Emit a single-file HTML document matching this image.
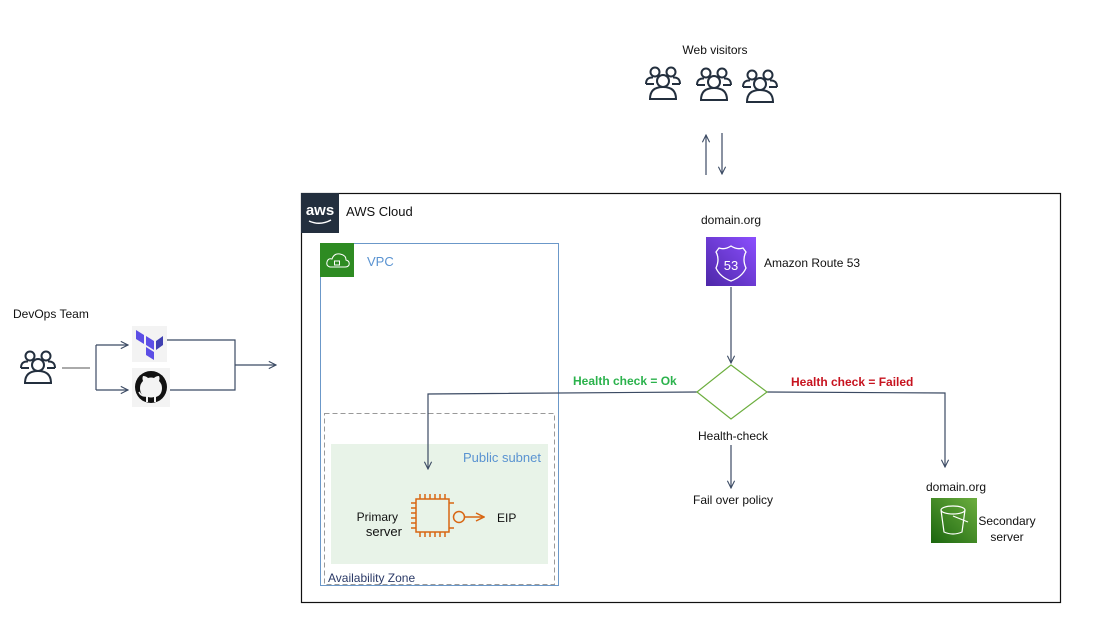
<!DOCTYPE html>
<html><head><meta charset="utf-8"><style>
html,body{margin:0;padding:0;background:#fff}
svg{display:block}
text{font-family:"Liberation Sans",sans-serif;font-size:12px;fill:#111}
</style></head><body>
<svg width="1110" height="627" viewBox="0 0 1110 627" xmlns="http://www.w3.org/2000/svg">
<defs>
<g id="grp" fill="none" stroke="#232f3e" stroke-width="2">
<circle cx="10" cy="6" r="4.5"/><circle cx="26" cy="6" r="4.5"/>
<path d="M1 18 Q1 11 8 11.5 M35 18 Q35 11 28 11.5 M1 18 H9 M35 18 H27"/>
<circle cx="18" cy="15" r="6"/>
<path d="M5 33 Q5 21 18 21 Q31 21 31 33 Z"/>
</g>
<marker id="ar" viewBox="0 0 10 10" refX="9" refY="5" markerWidth="9" markerHeight="9" orient="auto" markerUnits="userSpaceOnUse"><path d="M1 1 L9 5 L1 9" fill="none" stroke="#3b4a63" stroke-width="1.2"/></marker>
<marker id="aro" viewBox="0 0 10 10" refX="9" refY="5" markerWidth="10" markerHeight="10" orient="auto" markerUnits="userSpaceOnUse"><path d="M1 1 L9 5 L1 9" fill="none" stroke="#d86613" stroke-width="1.5"/></marker>
<linearGradient id="pg" x1="0" y1="1" x2="1" y2="0"><stop offset="0" stop-color="#4d27a8"/><stop offset="1" stop-color="#8c4fff"/></linearGradient>
<linearGradient id="gg" x1="0" y1="1" x2="1" y2="0"><stop offset="0" stop-color="#1b660f"/><stop offset="1" stop-color="#6cae3e"/></linearGradient>
</defs>

<text x="715" y="54" text-anchor="middle">Web visitors</text>
<use href="#grp" x="645" y="66"/>
<use href="#grp" x="696" y="67"/>
<use href="#grp" x="742" y="69"/>
<g stroke="#3b4a63" stroke-width="1.2" fill="none">
<line x1="706" y1="175" x2="706" y2="135" marker-end="url(#ar)"/>
<line x1="722" y1="133" x2="722" y2="174" marker-end="url(#ar)"/>
</g>

<rect x="301.5" y="193.5" width="759" height="409" fill="none" stroke="#111" stroke-width="1.2"/>
<rect x="301" y="193" width="38" height="40" fill="#232f3e"/>
<text x="320" y="215" text-anchor="middle" style="font-size:15px;fill:#fff;font-weight:bold">aws</text>
<path d="M309 221 Q320 226 331 220" stroke="#fff" stroke-width="1.5" fill="none"/>
<text x="346" y="216" style="font-size:13px">AWS Cloud</text>

<rect x="320.5" y="243.5" width="238" height="342" fill="none" stroke="#6b98c9" stroke-width="1"/>
<rect x="320" y="243" width="34" height="34" fill="#2e8b22"/>
<path d="M330 267 Q326 266 327 262 Q328 258 332 259 Q334 253 340 254 Q346 255 346 260 Q350 261 349 265 Q348 267 345 267 Z" fill="none" stroke="#fff" stroke-width="1"/>
<rect x="334.5" y="261" width="5" height="4" fill="none" stroke="#fff" stroke-width="1"/>
<text x="367" y="266" style="font-size:13px;fill:#5a93d1">VPC</text>

<rect x="324.5" y="413.5" width="230" height="171" fill="none" stroke="#999" stroke-width="1" stroke-dasharray="5,3"/>
<rect x="331" y="444" width="217" height="120" fill="#e8f3e8"/>
<text x="541" y="462" text-anchor="end" style="font-size:13px;fill:#5a93d1">Public subnet</text>
<text x="328" y="582" style="font-size:12px;fill:#2b3a67">Availability Zone</text>

<g stroke="#d86613" stroke-width="1.5" fill="none">
<rect x="416" y="499" width="33" height="33"/>
<path d="M420 499v-5M425 499v-5M430 499v-5M435 499v-5M440 499v-5M445 499v-5 M420 532v5M425 532v5M430 532v5M435 532v5M440 532v5M445 532v5 M416 503h-5M416 508h-5M416 513h-5M416 518h-5M416 523h-5M416 528h-5 M449 503h5M449 528h5"/>
<circle cx="459" cy="517" r="5.5"/>
<line x1="465" y1="517" x2="484" y2="517" marker-end="url(#aro)"/>
</g>
<text x="398" y="521" text-anchor="end">Primary</text>
<text x="402" y="536" text-anchor="end" style="font-size:13px">server</text>
<text x="497" y="522">EIP</text>

<text x="731" y="224" text-anchor="middle">domain.org</text>
<rect x="706" y="237" width="50" height="49" fill="url(#pg)"/>
<path d="M731 246 Q737 250 743 248 L746 252 Q742 259 746 268 Q742 277 731 281 Q720 277 716 268 Q720 259 716 252 L719 248 Q725 250 731 246 Z" fill="none" stroke="#fff" stroke-width="1.3"/>
<text x="731" y="270" text-anchor="middle" style="font-size:13px;fill:#fff">53</text>
<text x="764" y="267">Amazon Route 53</text>

<g stroke="#3b4a63" stroke-width="1.2" fill="none">
<line x1="731" y1="287" x2="731" y2="363" marker-end="url(#ar)"/>
<polyline points="697,392 428,394 428,469" marker-end="url(#ar)"/>
<polyline points="767,392 945,393 945,467" marker-end="url(#ar)"/>
<line x1="731" y1="445" x2="731" y2="488" marker-end="url(#ar)"/>
</g>
<polygon points="731,365 767,392 731,419 697,392" fill="#fff" stroke="#6cae3e" stroke-width="1.2"/>
<text x="573" y="385" style="font-weight:bold;fill:#2bb24c">Health check = Ok</text>
<text x="791" y="386" style="font-weight:bold;fill:#c7131f">Health check = Failed</text>
<text x="733" y="440" text-anchor="middle">Health-check</text>
<text x="733" y="504" text-anchor="middle">Fail over policy</text>

<text x="956" y="491" text-anchor="middle">domain.org</text>
<rect x="931" y="498" width="46" height="45" fill="url(#gg)"/>
<g stroke="#fff" stroke-width="1.2" fill="none">
<ellipse cx="953" cy="510" rx="12" ry="4"/>
<path d="M941 510 L944 532 Q953 536 962 532 L965 510"/>
<path d="M953 516 L968 522"/>
</g>
<text x="1007" y="525" text-anchor="middle">Secondary</text>
<text x="1007" y="541" text-anchor="middle">server</text>

<text x="13" y="318">DevOps Team</text>
<use href="#grp" x="20" y="350"/>
<g stroke="#3b4a63" stroke-width="1.2" fill="none">
<line x1="62" y1="368" x2="90" y2="368" stroke="#777"/>
<path d="M96 345 V390"/>
<line x1="96" y1="345" x2="128" y2="345" marker-end="url(#ar)"/>
<line x1="96" y1="390" x2="128" y2="390" marker-end="url(#ar)"/>
<polyline points="167,340 235,340 235,390 167,390"/>
<line x1="235" y1="365" x2="276" y2="365" marker-end="url(#ar)"/>
</g>
<rect x="132" y="326" width="35" height="36" fill="#f3f3f3"/>
<g fill="#5c4ee5">
<polygon points="136,330 144,335 144,344 136,339"/>
<polygon points="146,336 154,341 154,350 146,345"/>
<polygon points="146,347 154,352 154,360 146,355"/>
<polygon points="156,341 163,336 163,345 156,350" fill="#4040b2"/>
</g>
<rect x="132" y="368" width="38" height="39" fill="#f3f3f3"/>
<circle cx="151" cy="387" r="16" fill="#111"/>
<path d="M146 402 V397 Q140 395 140 388 Q140 384 143 381 Q142 378 143 376 Q146 376 148 378 Q151 377 154 378 Q156 376 159 376 Q160 378 159 381 Q162 384 162 388 Q162 395 156 397 V402 L154 402 V397 Q151 398 148 397 V402 Z" fill="#f3f3f3"/>
<path d="M145 396 Q141 396 139 392" stroke="#f3f3f3" stroke-width="1.5" fill="none"/>
</svg>
</body></html>
